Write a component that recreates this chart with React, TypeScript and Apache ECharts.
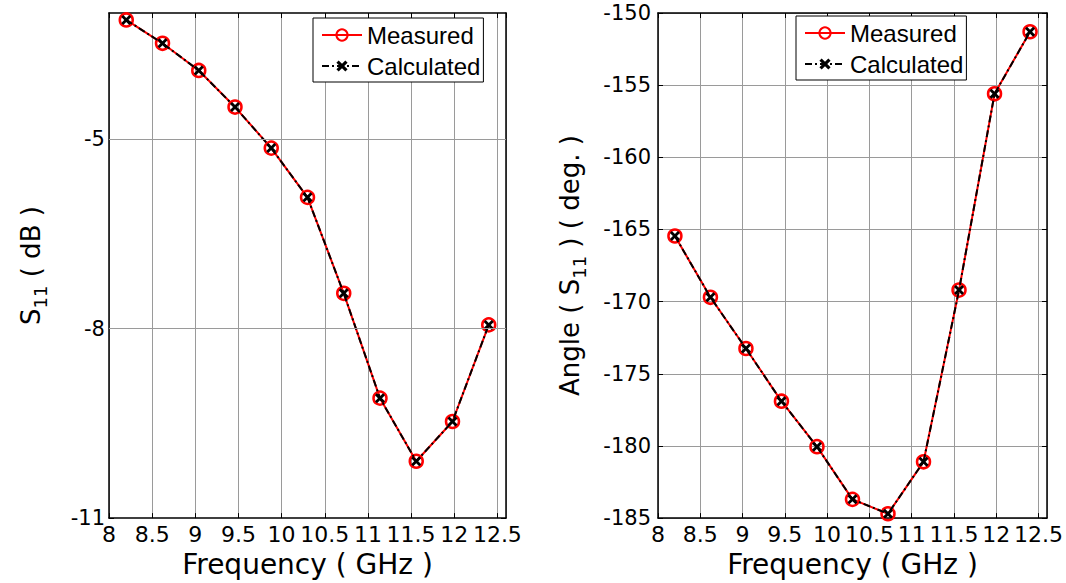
import React, { useEffect, useRef } from "react";
import * as echarts from "echarts";

// Frequency points (GHz)
const frequencies = [8.2, 8.62, 9.04, 9.46, 9.88, 10.3, 10.72, 11.14, 11.56, 11.98, 12.4];

// |S11| in dB
const magMeasured = [-3.11, -3.48, -3.91, -4.49, -5.14, -5.92, -7.44, -9.1, -10.1, -9.47, -7.94];
const magCalculated = [-3.11, -3.48, -3.91, -4.49, -5.14, -5.92, -7.44, -9.1, -10.1, -9.47, -7.94];

// Angle(S11) in degrees
const angMeasured = [-165.45, -169.7, -173.25, -176.9, -180.05, -183.7, -184.7, -181.1, -169.2, -155.6, -151.3];
const angCalculated = [-165.45, -169.7, -173.25, -176.9, -180.05, -183.7, -184.7, -181.1, -169.2, -155.6, -151.3];

// Tick values
const magTicks = [-11, -8, -5];
const legendNames = ["Measured", "Calculated"];

const FONT = "DejaVu Sans, Arial, sans-serif";
const LEG_FONT = "Liberation Sans, Arial, sans-serif";
const X_SYMBOL = "path://M2,0 L5,3 L8,0 L10,2 L7,5 L10,8 L8,10 L5,7 L2,10 L0,8 L3,5 L0,2 Z";
const GRID_COLOR = "#9a9a9a";

function pairs(xs: number[], ys: number[]) {
  return xs.map((x, i) => [x, ys[i]]);
}

export default function App() {
  const ref = useRef<HTMLDivElement>(null);

  useEffect(() => {
    if (!ref.current) return;
    const chart = echarts.init(ref.current, undefined, { renderer: "svg" });

    const axisLine = { show: true, onZero: false, lineStyle: { color: "#000", width: 1.5 } };
    const tick = { show: true, inside: true, length: 5, lineStyle: { color: "#000", width: 1 } };
    const split = { show: true, lineStyle: { color: GRID_COLOR, width: 1 } };

    const xBottom = (gridIndex: number) => ({
      type: "value",
      gridIndex,
      position: "bottom",
      min: 8,
      max: 12.6,
      interval: 0.5,
      axisLine,
      axisTick: tick,
      splitLine: split,
      axisLabel: {
        showMaxLabel: false,
        margin: 5,
        color: "#000",
        fontSize: 22,
        fontFamily: FONT,
      },
      name: "Frequency ( GHz )",
      nameLocation: "middle",
      nameGap: 31,
      nameTextStyle: { color: "#000", fontSize: 28, fontFamily: FONT },
    });
    const xTop = (gridIndex: number) => ({
      type: "value",
      gridIndex,
      position: "top",
      min: 8,
      max: 12.6,
      interval: 0.5,
      axisLine,
      axisTick: tick,
      splitLine: { show: false },
      axisLabel: { show: false },
    });

    const nameRich = {
      s: { fontSize: 26, fontFamily: FONT, color: "#000", lineHeight: 36 },
      sub: { fontSize: 18, fontFamily: FONT, color: "#000", lineHeight: 18, verticalAlign: "bottom" },
    };

    const legendBase = {
      data: legendNames,
      orient: "vertical",
      itemWidth: 40,
      itemHeight: 14,
      itemGap: 7,
      padding: [5, 3, 4, 8],
      borderColor: "#000",
      borderWidth: 1,
      backgroundColor: "#fff",
      selectedMode: false,
      textStyle: { fontSize: 24, fontFamily: LEG_FONT, color: "#000", lineHeight: 22 },
    };

    const measuredStyle = {
      type: "line",
      symbol: "circle",
      symbolSize: 13,
      showAllSymbol: true,
      lineStyle: { color: "#ff0000", width: 2 },
      itemStyle: { color: "rgba(255,255,255,0)", borderColor: "#ff0000", borderWidth: 2.5 },
      z: 2,
    };
    const calculatedStyle = {
      type: "line",
      symbol: X_SYMBOL,
      symbolSize: 10,
      showAllSymbol: true,
      lineStyle: { color: "#000", width: 2, type: [7, 3, 2, 3] },
      itemStyle: { color: "#000" },
      z: 3,
    };

    const option = {
      animation: false,
      backgroundColor: "#fff",
      grid: [
        { left: 109, right: 560, top: 13, bottom: 59 },
        { left: 658, right: 17, top: 13, bottom: 59 },
      ],
      xAxis: [xBottom(0), xTop(0), xBottom(1), xTop(1)],
      yAxis: [
        {
          type: "value",
          gridIndex: 0,
          position: "left",
          min: -11,
          max: -3,
          interval: 1,
          axisLine,
          axisTick: { ...tick, customValues: magTicks },
          splitLine: { show: false },
          axisLabel: { customValues: magTicks, margin: 4, color: "#000", fontSize: 21, fontFamily: FONT },
          name: "{s|S}{sub|11}{s| ( dB )}",
          nameLocation: "middle",
          nameGap: 60,
          nameTextStyle: { rich: nameRich },
        },
        {
          type: "value",
          gridIndex: 0,
          position: "right",
          min: -11,
          max: -3,
          interval: 1,
          axisLine,
          axisTick: { ...tick, customValues: magTicks },
          splitLine: { show: false },
          axisLabel: { show: false },
        },
        {
          type: "value",
          gridIndex: 1,
          position: "left",
          min: -185,
          max: -150,
          interval: 5,
          axisLine,
          axisTick: tick,
          splitLine: split,
          axisLabel: { margin: 7, color: "#000", fontSize: 21, fontFamily: FONT },
          name: "{s|Angle ( S}{sub|11}{s| ) ( deg. )}",
          nameLocation: "middle",
          nameGap: 70,
          nameTextStyle: { rich: nameRich },
        },
        {
          type: "value",
          gridIndex: 1,
          position: "right",
          min: -185,
          max: -150,
          interval: 5,
          axisLine,
          axisTick: tick,
          splitLine: { show: false },
          axisLabel: { show: false },
        },
      ],
      legend: [
        { ...legendBase, left: 313, top: 18 },
        { ...legendBase, left: 796, top: 16 },
      ],
      series: [
        {
          name: "gridlines",
          type: "line",
          xAxisIndex: 0,
          yAxisIndex: 0,
          data: [],
          z: 1,
          markLine: {
            silent: true,
            symbol: "none",
            label: { show: false },
            lineStyle: { color: GRID_COLOR, width: 1, type: "solid" },
            data: magTicks.filter((v) => v > -11).map((v) => ({ yAxis: v })),
          },
        },
        {
          ...measuredStyle,
          name: "Measured",
          xAxisIndex: 0,
          yAxisIndex: 0,
          data: pairs(frequencies, magMeasured),
        },
        {
          ...calculatedStyle,
          name: "Calculated",
          xAxisIndex: 0,
          yAxisIndex: 0,
          data: pairs(frequencies, magCalculated),
        },
        {
          ...measuredStyle,
          name: "Measured",
          xAxisIndex: 2,
          yAxisIndex: 2,
          data: pairs(frequencies, angMeasured),
        },
        {
          ...calculatedStyle,
          name: "Calculated",
          xAxisIndex: 2,
          yAxisIndex: 2,
          data: pairs(frequencies, angCalculated),
        },
      ],
    };

    chart.setOption(option as any);
    return () => chart.dispose();
  }, []);

  return (
    <div
      ref={ref}
      style={{ position: "absolute", left: 0, top: 0, width: 1066, height: 583, background: "#fff" }}
    />
  );
}
